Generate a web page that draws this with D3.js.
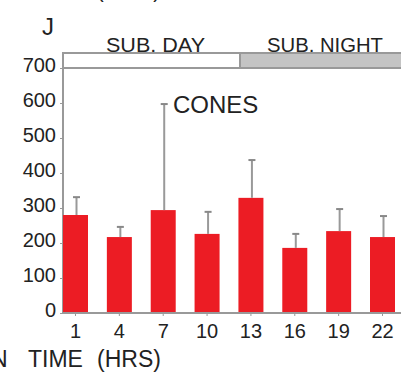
<!DOCTYPE html>
<html><head><meta charset="utf-8">
<script src="https://cdn.jsdelivr.net/npm/d3@7"></script>
<style>body{margin:0;background:#fff}svg{display:block}text{font-family:Arial,"Liberation Sans",sans-serif;fill:#222}</style>
</head><body><svg id="c" width="401" height="374"></svg>
<script>
const categories = ["1","4","7","10","13","16","19","22"];
const means = [280,217,294,226,329,186,234,217];
const errTops = [331,246,597,289,437,226,297,277];
const yTicks = [0,100,200,300,400,500,600,700];

const svg = d3.select("#c");
const L = 63, R = 401, T = 68, B = 313;
const x = d3.scaleBand().domain(categories).range([L, 395]).paddingInner(0.43).paddingOuter(0);
const y = d3.scaleLinear().domain([0,700]).range([B, T]);
const axisCol = "#999";

// top partial label and panel letter
svg.append("text").attr("x",97).attr("y",-2).attr("font-size",20).attr("textLength",63).text("(FMOL)");
svg.append("text").attr("x",42).attr("y",35).attr("font-size",24).text("J");

// condition bar
svg.append("rect").attr("x",L).attr("y",53).attr("width",R-L+2).attr("height",15)
  .attr("fill","#fff").attr("stroke",axisCol).attr("stroke-width",2);
svg.append("rect").attr("x",240).attr("y",53).attr("width",R-240+2).attr("height",15)
  .attr("fill","#c4c4c4").attr("stroke",axisCol).attr("stroke-width",2);
svg.append("text").attr("x",106).attr("y",52).attr("font-size",20).attr("textLength",99).attr("lengthAdjust","spacingAndGlyphs").text("SUB. DAY");
svg.append("text").attr("x",267).attr("y",52).attr("font-size",20).attr("textLength",116).attr("lengthAdjust","spacingAndGlyphs").text("SUB. NIGHT");

// y axis
const ya = svg.append("g").attr("transform",`translate(${L},0)`)
  .call(d3.axisLeft(y).tickValues(yTicks).tickSize(3).tickPadding(4).tickFormat(d3.format("d")));
ya.select(".domain").attr("stroke",axisCol).attr("stroke-width",2).attr("d",`M0,${B}V${T}`);
ya.selectAll(".tick line").attr("stroke",axisCol);
ya.selectAll(".tick text").attr("font-size",20).attr("dy","0.18em").attr("fill","#222").attr("font-family","Arial,'Liberation Sans',sans-serif");

// bars
svg.append("g").selectAll("rect").data(categories).join("rect")
  .attr("x",d=>x(d)).attr("width",x.bandwidth())
  .attr("y",(d,i)=>y(means[i])).attr("height",(d,i)=>B-y(means[i]))
  .attr("fill","#ec1c24");

// error bars
const eg = svg.append("g").attr("stroke","#999").attr("stroke-width",2);
categories.forEach((d,i)=>{
  const cx = x(d)+x.bandwidth()/2+1;
  eg.append("line").attr("x1",cx).attr("x2",cx).attr("y1",y(means[i])).attr("y2",y(errTops[i]));
  eg.append("line").attr("x1",cx-3.5).attr("x2",cx+3.5).attr("y1",y(errTops[i])).attr("y2",y(errTops[i])).attr("stroke","#888");
});

// x axis
const xa = svg.append("g").attr("transform",`translate(0,${B})`)
  .call(d3.axisBottom(x).tickSize(3).tickPadding(8));
xa.select(".domain").attr("stroke",axisCol).attr("stroke-width",2).attr("d",`M${L},0H${R}`);
xa.selectAll(".tick line").attr("stroke",axisCol);
xa.selectAll(".tick text").attr("font-size",20).attr("fill","#222").attr("font-family","Arial,'Liberation Sans',sans-serif");

// labels
svg.append("text").attr("x",173).attr("y",113).attr("font-size",24).text("CONES");
svg.append("text").attr("x",-9).attr("y",367).attr("font-size",23).text("N");
svg.append("text").attr("x",28).attr("y",367).attr("font-size",23).text("TIME");
svg.append("text").attr("x",97).attr("y",367).attr("font-size",23).text("(HRS)");
</script></body></html>
